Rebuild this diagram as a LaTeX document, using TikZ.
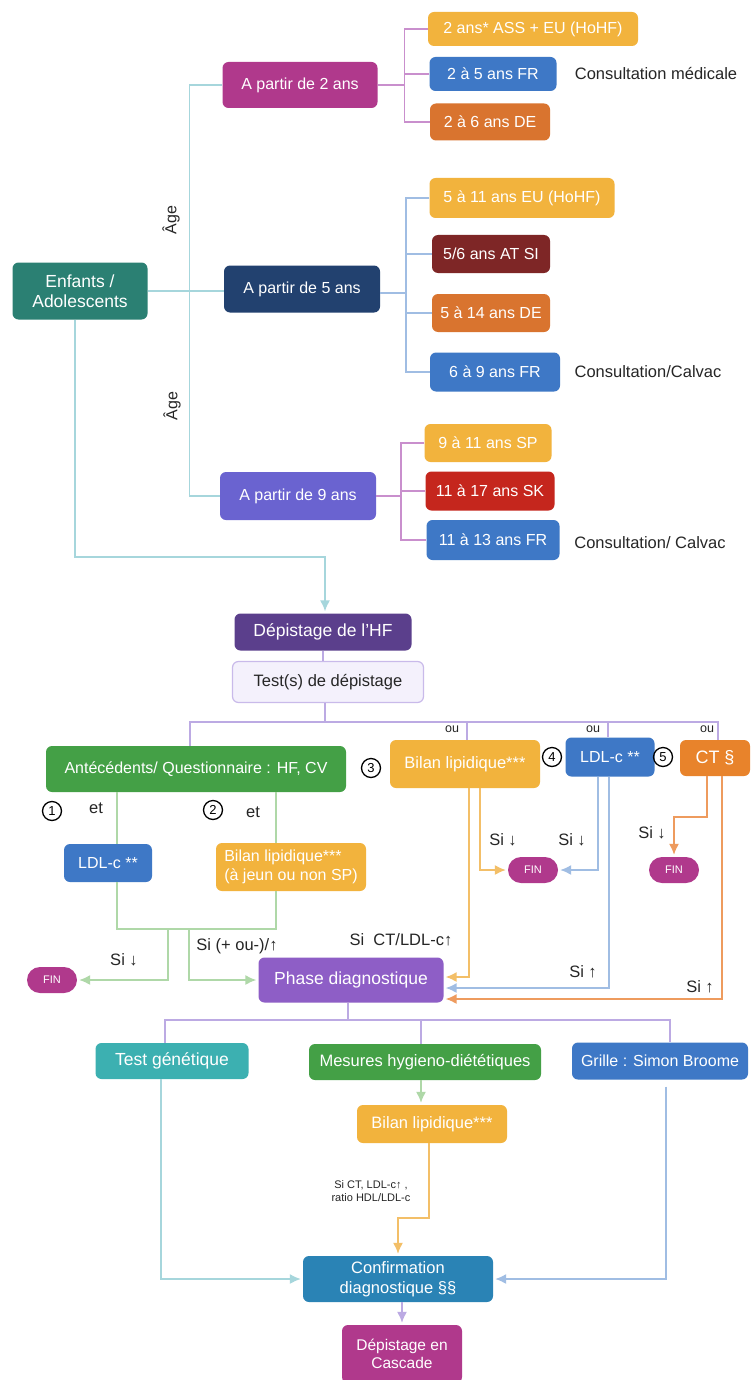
\documentclass[tikz,border=0pt]{standalone}
\usepackage{fontspec}
\setmainfont{Liberation Sans}
\usetikzlibrary{calc,arrows.meta}

\definecolor{tealA}{HTML}{2B8073}
\definecolor{magA}{HTML}{B0398C}
\definecolor{navyA}{HTML}{22416F}
\definecolor{periA}{HTML}{6A63D0}
\definecolor{yelA}{HTML}{F2B33D}
\definecolor{bluA}{HTML}{3E78C6}
\definecolor{oraA}{HTML}{D9742F}
\definecolor{dredA}{HTML}{7E2626}
\definecolor{redA}{HTML}{C5261D}
\definecolor{dpurA}{HTML}{5B3F8C}
\definecolor{lavF}{HTML}{F4F1FC}
\definecolor{lavD}{HTML}{C9BAEA}
\definecolor{grnA}{HTML}{44A046}
\definecolor{phsA}{HTML}{8E5EC6}
\definecolor{teaB}{HTML}{3CB0B1}
\definecolor{cblA}{HTML}{2A83B5}
\definecolor{oraB}{HTML}{E8832B}
\definecolor{tealL}{HTML}{A6D6DC}
\definecolor{magL}{HTML}{C98FCD}
\definecolor{bluL}{HTML}{A0BDE3}
\definecolor{grnL}{HTML}{AFD8A8}
\definecolor{yelL}{HTML}{F3BF68}
\definecolor{oraL}{HTML}{EE9B5E}
\definecolor{lavL}{HTML}{BCAAE3}

\begin{document}
\begin{tikzpicture}[x=1pt,y=-1pt,
    box/.style={rounded corners=6pt,text=white,align=center,inner sep=2pt,
        font=\fontsize{16}{18.5}\selectfont},
    fin/.style={rounded corners=13pt,fill=magA,text=white,minimum width=50pt,
        minimum height=26pt,inner sep=0pt,font=\fontsize{11}{11}\selectfont},
    num/.style={draw,circle,line width=1.3pt,inner sep=0pt,minimum size=19pt,
        font=\fontsize{13}{13}\selectfont},
    lab/.style={font=\fontsize{16.5}{19}\selectfont,text=black!85},
    tline/.style={line width=1.5pt,tealL},
    mline/.style={line width=1.5pt,magL},
    bline/.style={line width=1.5pt,bluL},
    gline/.style={line width=1.5pt,grnL},
    yline/.style={line width=1.5pt,yelL},
    oline/.style={line width=1.5pt,oraL},
    pline/.style={line width=1.5pt,lavL},
    tip/.style={-{Latex[length=11pt,width=10pt]},shorten >=2pt}]
    \fill[white] (0,0) rectangle (751,1380);
    \useasboundingbox (0,0) rectangle (751,1380);

    % age groups
    \node[box,fill=tealA,minimum width=135pt,minimum height=57pt,font=\fontsize{17.5}{20}\selectfont] (enf) at (80,291) {Enfants /\\Adolescents};
    \node[box,fill=magA,minimum width=155pt,minimum height=46pt] (a2) at (300,85) {A partir de 2 ans};
    \node[box,fill=navyA,minimum width=156pt,minimum height=47pt] (a5) at (302,289) {A partir de 5 ans};
    \node[box,fill=periA,minimum width=156pt,minimum height=48pt] (a9) at (298,496) {A partir de 9 ans};
    \node[lab,rotate=90,font=\fontsize{16}{18}\selectfont] (age1) at (171,220) {Âge};
    \node[lab,rotate=90,font=\fontsize{16}{18}\selectfont] (age2) at (172,406) {Âge};

    \node[box,fill=yelA,minimum width=210pt,minimum height=34pt] (b21) at (533,29) {2 ans* ASS + EU (HoHF)};
    \node[box,fill=bluA,minimum width=127pt,minimum height=34pt] (b25) at (493,74) {2 à 5 ans FR};
    \node[box,fill=oraA,minimum width=120pt,minimum height=37pt] (b26) at (490,122) {2 à 6 ans DE};
    \node[lab] (cons1) at (656,74) {Consultation médicale};

    \node[box,fill=yelA,minimum width=185pt,minimum height=40pt] (b511) at (522,198) {5 à 11 ans EU (HoHF)};
    \node[box,fill=dredA,minimum width=118pt,minimum height=38pt] (b56) at (491,254) {5/6 ans AT SI};
    \node[box,fill=oraA,minimum width=118pt,minimum height=38pt] (b514) at (491,313) {5 à 14 ans DE};
    \node[box,fill=bluA,minimum width=130pt,minimum height=39pt] (b69) at (495,372) {6 à 9 ans FR};
    \node[lab] (cons2) at (648,372) {Consultation/Calvac};

    \node[box,fill=yelA,minimum width=127pt,minimum height=38pt] (b911) at (488,443) {9 à 11 ans SP};
    \node[box,fill=redA,minimum width=129pt,minimum height=39pt] (b1117) at (490,491) {11 à 17 ans SK};
    \node[box,fill=bluA,minimum width=133pt,minimum height=40pt] (b1113) at (493,540) {11 à 13 ans FR};
    \node[lab] (cons3) at (650,543) {Consultation/ Calvac};

    \draw[tline] (enf.east) -- (enf.east -| a5.west);
    \draw[tline] (a2.west) -- ++(-33,0) |- (a9.west);
    \draw[mline] (a2.east) -- ++(27,0) coordinate (j2);
    \draw[mline] (b21.west) -| (j2) |- (b26.west);
    \draw[mline] (b25.west) -- (b25.west -| j2);
    \draw[bline] ([yshift=-4pt]a5.east) -- ++(26,0) coordinate (j5a);
    \draw[bline] (b511.west) -| (j5a) |- (b69.west);
    \draw[bline] (b56.west) -- (b56.west -| j5a);
    \draw[bline] (b514.west) -- (b514.west -| j5a);
    \draw[mline] (a9.east) -- ++(25,0) coordinate (j9);
    \draw[mline] (b911.west) -| (j9) |- (b1113.west);
    \draw[mline] (b1117.west) -- (b1117.west -| j9);

    % depistage
    \node[box,fill=dpurA,minimum width=177pt,minimum height=37pt,font=\fontsize{17.5}{20}\selectfont] (dep) at (323,632) {Dépistage de l'HF};
    \node[box,fill=lavF,draw=lavD,line width=1.2pt,text=black!85,minimum width=191pt,minimum height=41pt,font=\fontsize{16.5}{19}\selectfont] (test) at (328,682) {Test(s) de dépistage};
    \coordinate (k1) at (325,557);
    \draw[tline,tip] ([xshift=-5pt]enf.south) |- (k1) -- (k1 |- dep.north);
    \draw[pline] (dep.south) -- (dep.south |- test.north);

    \node[box,fill=grnA,minimum width=300pt,minimum height=46pt] (ant) at (196,769) {Antécédents/ Questionnaire : HF, CV};
    \node[box,fill=yelA,minimum width=150pt,minimum height=48pt,font=\fontsize{16.5}{19}\selectfont] (bil3) at (465,764) {Bilan lipidique***};
    \node[box,fill=bluA,minimum width=89pt,minimum height=39pt] (ldl3) at (610,757) {LDL-c **};
    \node[box,fill=oraB,minimum width=70pt,minimum height=36pt,font=\fontsize{18}{20}\selectfont] (ct) at (715,758) {CT §};
    \node[num] (c1) at (52,811) {1};
    \node[num] (c2) at (213,810) {2};
    \node[num] (c3) at (371,768) {3};
    \node[num] (c4) at (552,757) {4};
    \node[num] (c5) at (663,757) {5};
    \node[lab,font=\fontsize{12.5}{14}\selectfont] (ou1) at (452,729) {ou};
    \node[lab,font=\fontsize{12.5}{14}\selectfont] (ou2) at (593,729) {ou};
    \node[lab,font=\fontsize{12.5}{14}\selectfont] (ou3) at (707,729) {ou};

    \coordinate (j3) at (325,722);
    \draw[pline] (test.south -| j3) -- (j3);
    \draw[pline] ([xshift=-6pt]ant.north) |- ([xshift=3pt]ct.north |- j3) -- ([xshift=3pt]ct.north);
    \draw[pline] ([xshift=2pt]bil3.north) -- ([xshift=2pt]bil3.north |- j3);
    \draw[pline] ([xshift=-2pt]ldl3.north) -- ([xshift=-2pt]ldl3.north |- j3);

    % branches 1 and 2
    \node[lab] (et1) at (96,808) {et};
    \node[lab] (et2) at (253,812) {et};
    \node[box,fill=bluA,minimum width=88pt,minimum height=38pt] (ldl1) at (108,863) {LDL-c **};
    \node[box,fill=yelA,minimum width=150pt,minimum height=48pt,inner sep=1pt,align=left] (bil1) at (291,867) {Bilan lipidique***\\(à jeun ou non SP)};
    \node[fin] (fin1) at (52,980) {FIN};
    \node[box,fill=phsA,minimum width=185pt,minimum height=45pt,font=\fontsize{17.5}{20}\selectfont] (ph) at (351,980) {Phase diagnostique};
    \draw[gline] ([xshift=9pt]ldl1.north |- ant.south) -- ([xshift=9pt]ldl1.north);
    \draw[gline] ([xshift=-15pt]bil1.north |- ant.south) -- ([xshift=-15pt]bil1.north);
    \coordinate (g0) at (168,929);
    \coordinate (g1) at (189,929);
    \draw[gline] ([xshift=9pt]ldl1.south) |- (g0) -| ([xshift=-15pt]bil1.south);
    \draw[gline,tip] (g0) |- (fin1.east);
    \draw[gline,tip] (g1) |- (ph.west);
    \node[lab] (s1) at (124,960) {Si ↓};
    \node[lab] (s2) at (237,946) {Si (+ ou-)/↑};
    \node[lab] (s3) at (401,940) {Si\ \ CT/LDL-c↑};

    % branches 3, 4 and 5
    \node[fin] (fin2) at (533,870) {FIN};
    \node[fin] (fin3) at (674,870) {FIN};
    \draw[yline,tip] ([xshift=4pt]bil3.south) |- ([yshift=3pt]ph.east);
    \draw[yline,tip] ([xshift=15pt]bil3.south) |- (fin2.west);
    \draw[bline,tip] ([xshift=-12pt]ldl3.south) |- (fin2.east);
    \draw[bline,tip] ([xshift=-1pt]ldl3.south) |- ([yshift=-8pt]ph.east);
    \draw[oline,tip] ([xshift=-8pt]ct.south) -- ++(0,41) -| (fin3.north);
    \draw[oline,tip] ([xshift=7pt]ct.south) |- ([yshift=-19pt]ph.east);
    \node[lab] (s4) at (503,840) {Si ↓};
    \node[lab] (s5) at (572,840) {Si ↓};
    \node[lab] (s6) at (652,833) {Si ↓};
    \node[lab] (s7) at (583,972) {Si ↑};
    \node[lab] (s8) at (700,987) {Si ↑};

    % diagnostic phase
    \node[box,fill=teaB,minimum width=153pt,minimum height=36pt,font=\fontsize{17.5}{20}\selectfont] (tg) at (172,1061) {Test génétique};
    \node[box,fill=grnA,minimum width=232pt,minimum height=36pt,font=\fontsize{16.5}{19}\selectfont] (mes) at (425,1062) {Mesures hygieno-diététiques};
    \node[box,fill=bluA,minimum width=176pt,minimum height=37pt] (gr) at (660,1061) {Grille : Simon Broome};
    \coordinate (j6) at (348,1020);
    \draw[pline] (ph.south -| j6) -- (j6);
    \draw[pline] ([xshift=-7pt]tg.north) |- ([xshift=10pt]gr.north |- j6) -- ([xshift=10pt]gr.north);
    \draw[pline] ([xshift=-4pt]mes.north) -- ([xshift=-4pt]mes.north |- j6);

    \node[box,fill=yelA,minimum width=150pt,minimum height=38pt,font=\fontsize{16.5}{19}\selectfont] (bil4) at (432,1124) {Bilan lipidique***};
    \node[box,fill=cblA,minimum width=190pt,minimum height=46pt,font=\fontsize{16.5}{20}\selectfont] (conf) at (398,1279) {Confirmation\\diagnostique §§};
    \node[box,fill=magA,minimum width=120pt,minimum height=58pt,font=\fontsize{15.5}{18}\selectfont] (cas) at (402,1354) {Dépistage en\\Cascade};
    \node[lab,align=center,font=\fontsize{11}{13.5}\selectfont] (s9) at (371,1191) {Si CT, LDL-c↑ ,\\ratio HDL/LDL-c};
    \draw[gline,tip] ([xshift=-4pt]mes.south) -- ([xshift=-4pt]mes.south |- bil4.north);
    \draw[yline,tip] ([xshift=-3pt]bil4.south) -- ++(0,75) -| (conf.north);
    \draw[tline,tip] ([xshift=-11pt]tg.south) |- (conf.west);
    \draw[bline,tip] ([xshift=6pt,yshift=-7pt]gr.south) |- (conf.east);
    \draw[pline,tip] ([xshift=4pt]conf.south) -- ([xshift=4pt]conf.south |- cas.north);
\end{tikzpicture}
\end{document}
